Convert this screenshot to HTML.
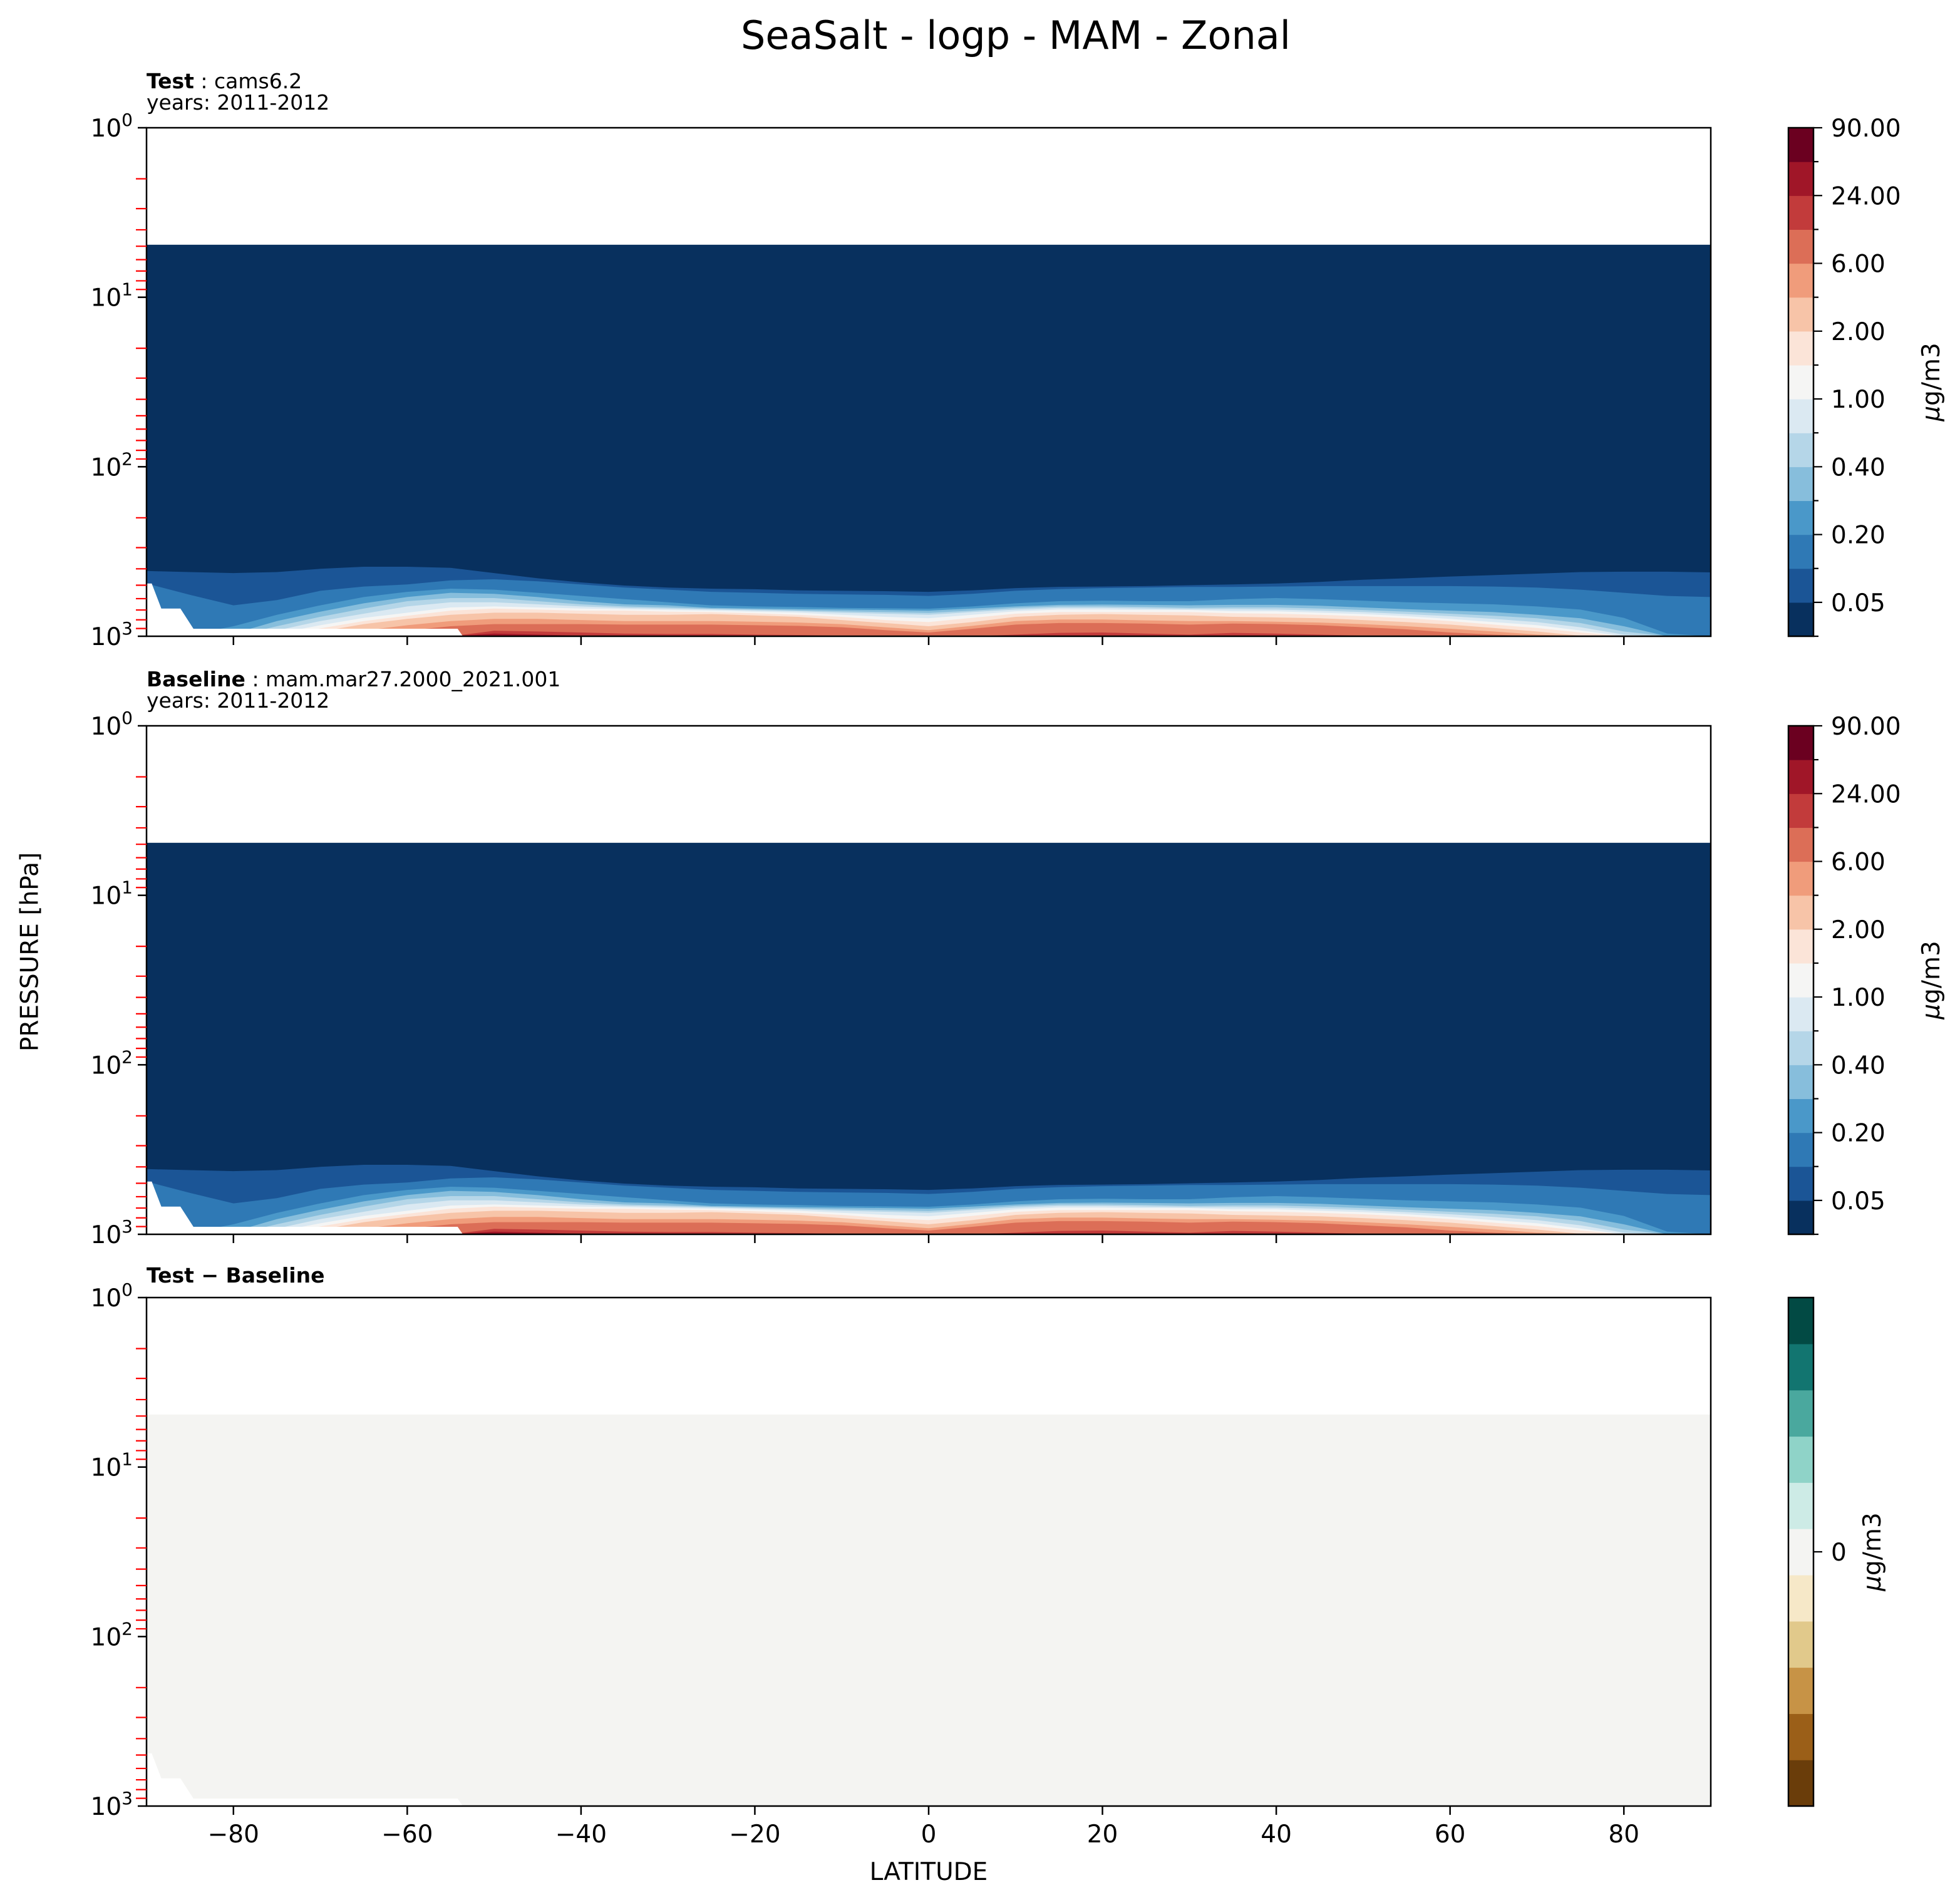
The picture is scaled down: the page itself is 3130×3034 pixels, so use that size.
<!DOCTYPE html>
<html><head><meta charset="utf-8"><style>
html,body{margin:0;padding:0;background:#fff;}
svg{display:block;font-family:"DejaVu Sans","Liberation Sans",sans-serif;}
</style></head><body>
<svg id="fig" xmlns="http://www.w3.org/2000/svg" width="3130" height="3034" viewBox="0 0 3130 3034">
<rect width="3130" height="3034" fill="#fff"/>
<text x="1622" y="78" font-size="62" text-anchor="middle">SeaSalt - logp - MAM - Zonal</text>
<text x="50" y="1520" font-size="39" text-anchor="middle" dominant-baseline="middle" transform="rotate(-90 50 1520)">PRESSURE [hPa]</text>
<text x="1483" y="3002" font-size="39" text-anchor="middle">LATITUDE</text>
<g id="plots"></g>
</svg>
<script>
// ---- data ----
const lats = [-90,-85,-80,-75,-70,-65,-60,-55,-50,-45,-40,-35,-30,-25,-20,-15,-10,-5,0,5,10,15,20,25,30,35,40,45,50,55,60,65,70,75,80,85,90];
const modelTopP = 4.9;
const L1 = [412,418,424,418,400,389,389,395,424,455,481,502,516,524,528,536,539,542,547,536,520,511,509,506,500,495,488,478,464,455,444,436,427,418,416,416,420];
const L2 = [488,570,657,612,539,509,495,468,461,474,495,516,531,547,554,562,566,570,578,562,539,527,520,516,512,512,509,506,506,506,506,509,516,531,554,578,587];
const L3 = [1000,978,873,747,657,587,547,524,531,554,578,604,630,657,667,672,680,684,688,667,639,621,617,621,621,604,595,604,617,630,639,648,667,696,779,964,1000];
const L4 = [1000,1000,964,813,716,639,587,554,562,587,621,648,657,680,686,692,696,700,706,686,667,653,650,653,657,653,653,661,676,692,706,720,747,783,873,1000,1000];
const L5 = [1000,1000,1000,873,768,686,621,595,595,621,648,667,676,688,696,704,712,720,728,706,680,667,667,672,680,676,676,686,700,716,736,757,783,836,937,1000,1000];
const L6 = [1000,1000,1000,924,813,736,667,630,630,648,667,680,688,696,704,712,726,736,747,720,696,680,680,686,692,692,696,706,720,740,762,790,825,885,978,1000,1000];
const L7 = [1000,1000,1000,964,861,779,726,676,667,676,686,692,700,706,716,726,747,768,783,747,712,696,696,700,700,712,712,726,740,762,790,825,861,924,1000,1000,1000];
const L8 = [1000,1000,1000,992,898,813,757,706,686,696,706,706,716,720,732,747,768,802,825,779,736,720,720,720,720,732,736,747,762,783,813,854,894,950,1000,1000,1000];
const L9 = [1000,1000,1000,1000,937,848,790,747,726,726,736,747,747,740,753,768,802,836,873,825,768,747,740,747,753,768,775,783,802,825,854,894,937,992,1000,1000,1000];
const L10 = [1000,1000,1000,1000,1000,924,861,813,790,790,802,813,813,813,820,830,848,885,920,868,813,797,797,806,813,813,820,830,848,873,903,937,978,1000,1000,1000,1000];
const L11 = [1000,1000,1000,1000,1000,1000,924,873,848,848,848,854,854,854,861,868,885,920,950,903,854,836,836,842,854,842,848,861,885,911,950,978,1000,1000,1000,1000,1000];
const L12 = [1000,1000,1000,1000,1000,1000,1000,1000,929,937,950,964,970,970,978,983,992,1000,1000,1000,978,955,950,964,978,955,964,978,992,1000,1000,1000,1000,1000,1000,1000,1000];
const L13 = [1000,1000,1000,1000,1000,1000,1000,1000,964,978,992,1000,1000,1000,1000,1000,1000,1000,1000,1000,1000,1000,1000,1000,1000,1000,1000,1000,1000,1000,1000,1000,1000,1000,1000,1000,1000];
const maskLat = [-90,-89.4,-88.3,-86.1,-84.6,-54.2,-53.6,-90];
const maskP = [488,488,686,686,903,903,1000,1000];
const xTicks = [-80,-60,-40,-20,0,20,40,60,80];
const yMajor = [1,10,100,1000];
const cbLevels = [0.02,0.05,0.1,0.2,0.3,0.4,0.7,1,1.5,2,4,6,12,24,48,90];
const cbLabels = ["","0.05","","0.20","","0.40","","1.00","","2.00","","6.00","","24.00","","90.00"];
const cbColors = ["#08305e","#1b5596","#2f79b5","#4a98c9","#87bedc","#b5d6e8","#dbe9f2","#f5f5f4","#fbe4d8","#f7c4a8","#f09c7b","#dc6e57","#c23b3b","#a01628","#6b0020"];
const diffColors = ["#6a3d0a","#9b5f18","#c79346","#e1c98b","#f6e8c8","#f4f4f2","#cdebe6","#8fd3c8","#4aa89e","#127570","#024a44"];
const levels = [L1,L2,L3,L4,L5,L6,L7,L8,L9,L10,L11,L12,L13];

// ---- layout ----
const NS = "http://www.w3.org/2000/svg";
const AX_L = 234, AX_R = 2732, AX_H = 812;
const CB_L = 2856, CB_R = 2896;
const root = document.getElementById('plots');
function mk(tag, attrs, parent){ const e=document.createElementNS(NS,tag); for(const k in attrs) e.setAttribute(k,attrs[k]); (parent||root).appendChild(e); return e; }
function xOf(lat){ return AX_L + (lat+90)/180*(AX_R-AX_L); }
function yOf(p, top){ return top + Math.log10(p)/3*AX_H; }

function curvePath(arr, top){
  let d = '';
  lats.forEach((la,i)=>{ d += (i?'L':'M') + xOf(la).toFixed(1) + ',' + yOf(arr[i],top).toFixed(1); });
  d += 'L'+xOf(90)+','+yOf(1000,top)+'L'+xOf(-90)+','+yOf(1000,top)+'Z';
  return d;
}

function unitLabel(parent, x, y){
  const u = mk('text',{x:x,y:y,'font-size':39,'text-anchor':'middle','dominant-baseline':'middle',transform:'rotate(-90 '+x+' '+y+')'}, parent);
  
  
  const mu = mk('tspan',{'font-style':'italic'}, u); mu.textContent = '\u03bc';
  const rest = mk('tspan',{}, u); rest.textContent = 'g/m3';
}

function panel(idx, top, kind, titleBold, titleRest, yearsLine){
  const g = mk('g',{});
  
  
  const cid = 'clip'+idx;
  const cp = mk('clipPath',{id:cid}, g);
  mk('rect',{x:AX_L,y:top,width:AX_R-AX_L,height:AX_H}, cp);
  const plot = mk('g',{'clip-path':'url(#'+cid+')'}, g);
  
  
  const yT = yOf(modelTopP, top);
  if(kind !== 'diff'){
    const base = mk('rect',{x:AX_L,y:yT,width:AX_R-AX_L,height:top+AX_H-yT,fill:cbColors[0]}, plot);
    
    
    levels.forEach((arr,k)=>{
      const p = mk('path',{d:curvePath(arr,top),fill:cbColors[k+1]}, plot);
      
      
    });
  } else {
    const base = mk('rect',{x:AX_L,y:yT,width:AX_R-AX_L,height:top+AX_H-yT,fill:'#f4f4f2'}, plot);
    
    
  }
  let md = '';
  maskLat.forEach((la,i)=>{ md += (i?'L':'M')+xOf(la).toFixed(1)+','+yOf(maskP[i],top).toFixed(1); });
  const m = mk('path',{d:md+'Z',fill:'#fff'}, plot);
  
  
  const fr = mk('rect',{x:AX_L,y:top,width:AX_R-AX_L,height:AX_H,fill:'none',stroke:'#000','stroke-width':2.5}, g);
  
  
  yMajor.forEach((p,i)=>{
    const y = yOf(p,top);
    mk('line',{x1:AX_L-14,x2:AX_L,y1:y,y2:y,stroke:'#000','stroke-width':2.5}, g);
    const t = mk('text',{x:212,y:y+14,'font-size':39,'text-anchor':'end'}, g);
    
    
    t.appendChild(document.createTextNode('10'));
    const s = mk('tspan',{dy:-17,'font-size':28}, t);
    s.textContent = String(i);
    if(i<3){ for(let m2=2;m2<=9;m2++){ const ym = yOf(p*m2,top); mk('line',{x1:AX_L-17,x2:AX_L,y1:ym,y2:ym,stroke:'#ff0000','stroke-width':2.2}, g); } }
  });
  xTicks.forEach(v=>{
    const x = xOf(v);
    mk('line',{x1:x,x2:x,y1:top+AX_H,y2:top+AX_H+14,stroke:'#000','stroke-width':2.5}, g);
    if(kind==='diff'){
      const t = mk('text',{x:x,y:top+AX_H+58,'font-size':39,'text-anchor':'middle'}, g);
      
      
      t.textContent = v<0 ? '\u2212'+Math.abs(v) : String(v);
    }
  });
  const st = mk('text',{x:AX_L,y: yearsLine ? top-63 : top-24,'font-size':33}, g);
  
  
  const b = mk('tspan',{'font-weight':'bold'}, st); b.textContent = titleBold;
  const r = mk('tspan',{}, st); r.textContent = titleRest;
  if(yearsLine){
    const yl = mk('text',{x:AX_L,y:top-29,'font-size':33}, g);
    
    
    yl.textContent = yearsLine;
  }
  const cb = mk('g',{}, g);
  
  
  const cols = kind==='diff' ? diffColors : cbColors;
  const n = cols.length, bh = AX_H/n;
  cols.forEach((c,i)=>{
    mk('rect',{x:CB_L,y:top+AX_H-(i+1)*bh,width:CB_R-CB_L,height:bh+0.6,fill:c}, cb);
  });
  mk('rect',{x:CB_L,y:top,width:CB_R-CB_L,height:AX_H,fill:'none',stroke:'#000','stroke-width':2.5}, cb);
  if(kind!=='diff'){
    cbLevels.forEach((lv,i)=>{
      const y = top+AX_H-i*bh;
      const lab = cbLabels[i];
      mk('line',{x1:CB_R,x2:CB_R+(lab?14:8),y1:y,y2:y,stroke:'#000','stroke-width':2.2}, cb);
      if(lab){ const t = mk('text',{x:2924,y:y+14,'font-size':39}, cb);
        
        
        t.textContent = lab; }
    });
    unitLabel(cb, 3086, top+AX_H/2);
  } else {
    const y = top+AX_H/2;
    mk('line',{x1:CB_R,x2:CB_R+14,y1:y,y2:y,stroke:'#000','stroke-width':2.2}, cb);
    const t = mk('text',{x:2924,y:y+14,'font-size':39}, cb);
    
    
    t.textContent = '0';
    unitLabel(cb, 2992, y);
  }
}
panel(1, 204, 'test', 'Test', ' : cams6.2', 'years: 2011-2012');
panel(2, 1159, 'baseline', 'Baseline', ' : mam.mar27.2000_2021.001', 'years: 2011-2012');
panel(3, 2072, 'diff', 'Test \u2212 Baseline', '', null);
</script>
</body></html>
